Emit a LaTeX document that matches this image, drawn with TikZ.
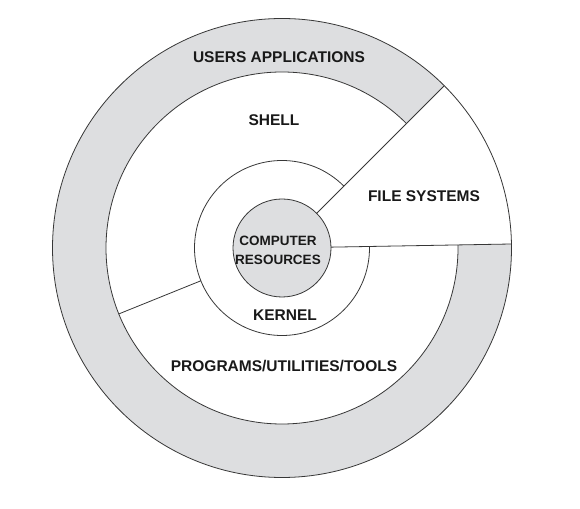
\documentclass[tikz,border=0pt]{standalone}
\usepackage{fontspec}
\setmainfont{Liberation Sans}
\begin{document}
\begin{tikzpicture}[x=1pt,y=1pt,
  ln/.style={draw=linegray,line width=0.8pt},
  ring/.style={circle,inner sep=0pt,outer sep=0pt},
  lbl/.style={text=textblack,font=\fontsize{15.5}{18}\selectfont\bfseries,inner sep=0pt,text depth=0pt},
  crlbl/.style={text=textblack,font=\fontsize{13.5}{19}\selectfont\bfseries,inner sep=0pt,align=center}]
\definecolor{bandgray}{RGB}{221,222,224}
\definecolor{linegray}{RGB}{55,55,55}
\definecolor{textblack}{RGB}{25,25,25}
\useasboundingbox (0,0) rectangle (580,508);
\fill[white] (0,0) rectangle (580,508);
\coordinate (C) at (282,260);
% reference circles
\node[ring,minimum size=459pt,fill=bandgray] (outer) at (C) {};
\node[ring,minimum size=352pt] (middle) at (C) {};
\node[ring,minimum size=175pt] (kernel) at (C) {};
% white regions
\fill[white] (C) -- (outer.1) arc[start angle=1,end angle=45,radius=229.5pt] -- cycle;
\fill[white] (C) -- (middle.45) arc[start angle=45,end angle=361,radius=176pt] -- cycle;
% outlines
\draw[ln] (C) circle[radius=229.5pt];
\draw[ln] (middle.45) arc[start angle=45,end angle=361,radius=176pt];
\draw[ln] (kernel.45) arc[start angle=45,end angle=361,radius=87.5pt];
% computer resources
\node[ring,minimum size=98pt,fill=bandgray,ln] (cr) at (C) {};
% dividing lines
\draw[ln] (cr.45) -- (outer.45);
\draw[ln] (cr.1) -- (outer.1);
\draw[ln] (kernel.202.5) -- (middle.202.5);
% labels
\node[lbl] (users) at (279,451) {USERS APPLICATIONS};
\node[lbl] (shell) at (274,388) {SHELL};
\node[lbl] (fs) at (424,312) {FILE SYSTEMS};
\node[crlbl] (crt) at (278,258) {COMPUTER\\RESOURCES};
\node[lbl] (kern) at (285,193) {KERNEL};
\node[lbl] (prog) at (284,142) {PROGRAMS/UTILITIES/TOOLS};
\end{tikzpicture}
\end{document}
